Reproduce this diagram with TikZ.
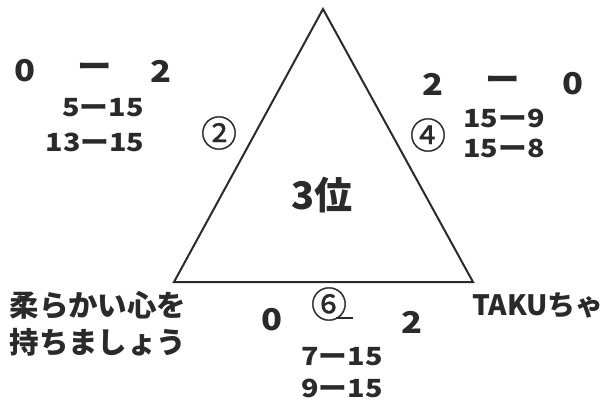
\documentclass[tikz,border=0pt]{standalone}
\usepackage{fontspec}
\newfontfamily\jp{Noto Sans CJK JP}
\newfontfamily\jpw{Noto Sans CJK JP}[FakeStretch=1.15]
\newfontfamily\jpc{Noto Sans CJK JP}[FakeBold=0.8]
\definecolor{ink}{HTML}{2A2A2A}
\tikzset{
  lbl/.style={font=\jpw\bfseries\fontsize{25}{25}\selectfont, text=ink, inner sep=0pt},
  big/.style={font=\jpw\bfseries\fontsize{30}{30}\selectfont, text=ink, inner sep=0pt},
  circ/.style={font=\jpc\fontsize{36}{36}\selectfont, text=ink, inner sep=0pt},
  jtext/.style={font=\jp\bfseries\fontsize{29.5}{29.5}\selectfont, text=ink, inner sep=0pt},
}
\begin{document}
\begin{tikzpicture}[x=1pt,y=-1pt]
\useasboundingbox (0,0) rectangle (606,404);
\coordinate (A) at (323,9);
\coordinate (B) at (174,282);
\coordinate (C) at (473,282);
\draw[line width=2pt, ink, line join=miter] (A) -- (B) -- (C) -- cycle;
% center
\node[font=\jp\bfseries\fontsize{38}{38}\selectfont, text=ink, inner sep=0pt] (rank) at (322,195) {3位};
% left side
\node[big] (l0) at (25,71) {0};
\node[big] (ld) at (95,70) {ー};
\node[big] (l2) at (161,71) {2};
\node[lbl] (l1) at (103,108) {5ー15};
\node[lbl] (l3) at (95,142) {13ー15};
\node[circ] (c2) at (219,133) {②};
% right side
\node[big] (r2) at (433,84) {2};
\node[big] (rd) at (503,83) {ー};
\node[big] (r0) at (573,84) {0};
\node[lbl] (r1) at (504,118) {15ー9};
\node[lbl] (r3) at (504,148) {15ー8};
\node[circ] (c4) at (428,135) {④};
% bottom
\node[big] (b0) at (272,320) {0};
\node[circ] (c6) at (329,304) {⑥};
\coordinate (u1) at (336,318);
\coordinate (u2) at (353,318);
\draw[line width=1.8pt, ink] (u1) -- (u2);
\node[big] (b2) at (412,322) {2};
\node[lbl] (b1) at (342,357) {7ー15};
\node[lbl] (b3) at (342,388) {9ー15};
% names
\node[jtext] (n1) at (98,305) {柔らかい心を};
\node[jtext] (n2) at (98,342) {持ちましょう};
\node[jtext, font=\jp\bfseries\fontsize{28}{28}\selectfont, anchor=east] (n3) at (604,305) {TAKUちゃ};
\end{tikzpicture}
\end{document}
